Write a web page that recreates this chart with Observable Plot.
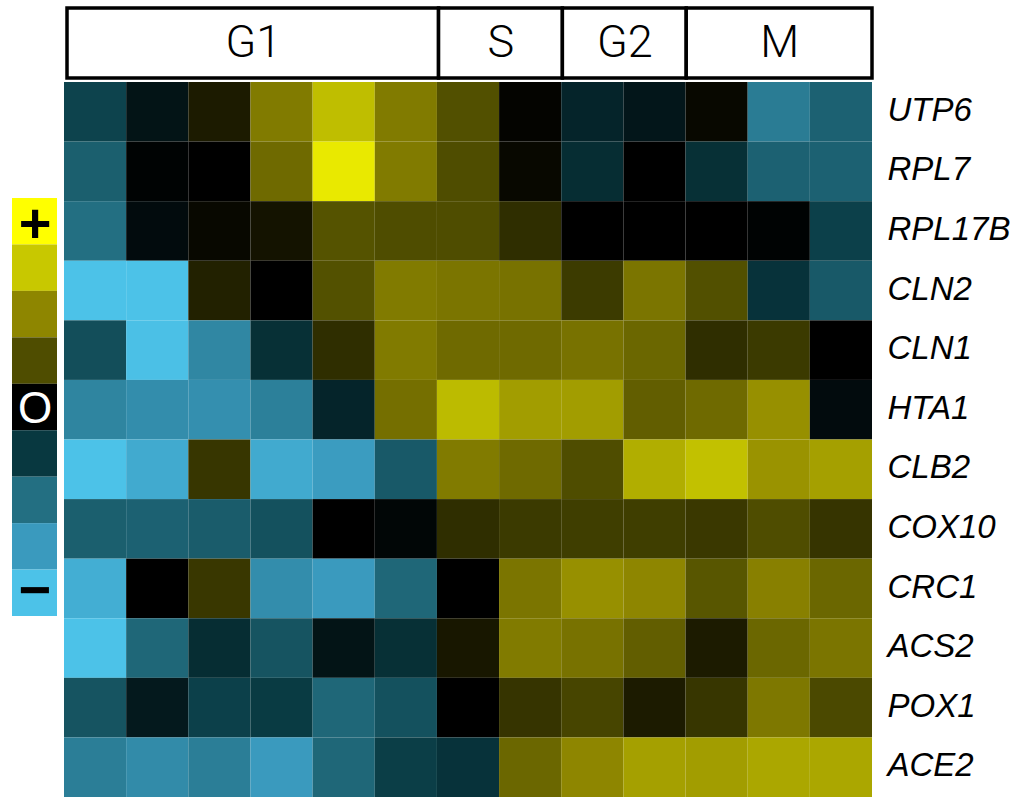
<!DOCTYPE html>
<html><head><meta charset="utf-8">
<script src="https://cdn.jsdelivr.net/npm/d3@7"></script>
<script src="https://cdn.jsdelivr.net/npm/@observablehq/plot@0.6"></script>
<style>
html,body{margin:0;padding:0;background:#fff}
body{width:1023px;height:797px;overflow:hidden;position:relative;font-family:"Liberation Sans",Arial,sans-serif}
#header{position:absolute;left:0;top:0}
#heat{position:absolute;left:0;top:82px}
#legend{position:absolute;left:12px;top:173px}
svg{display:block;overflow:visible}
</style></head><body>
<div id="header"></div><div id="heat"></div><div id="legend"></div>
<script>
// ---- data ----
const genes = ["UTP6","RPL7","RPL17B","CLN2","CLN1","HTA1","CLB2","COX10","CRC1","ACS2","POX1","ACE2"];
const columns = [0,1,2,3,4,5,6,7,8,9,10,11,12];
const phases = ["G1","S","G2","M"];
const phaseStart = [0,6,8,10];
const phaseEnd = [6,8,10,13];
// expression level, -4 (strong repression) .. +4 (strong induction)
const values = [
  [-1.2,-0.35, 0.35, 1.8, 2.85, 1.8, 1.05, 0.05,-0.65,-0.4, 0.1,-2.3,-1.75], // UTP6
  [-1.7,-0.05, 0.0, 1.5, 3.6, 1.8, 1.0, 0.1,-0.8, 0.0,-0.85,-1.75,-1.75],   // RPL7
  [-2.0,-0.2, 0.1, 0.25, 1.1, 1.0, 1.0, 0.6, 0.0, 0.0, 0.0,-0.05,-1.15],    // RPL17B
  [-4.0,-4.0, 0.43, 0.0, 1.07, 1.8, 1.7, 1.65, 0.76, 1.7, 1.05,-0.9,-1.6],  // CLN2
  [-1.4,-3.95,-2.55,-0.85, 0.6, 1.8, 1.5, 1.5, 1.65, 1.45, 0.6, 0.75, 0.0], // CLN1
  [-2.5,-2.7,-2.75,-2.4,-0.65, 1.6, 2.8, 2.35, 2.35, 1.3, 1.5, 2.15,-0.2],  // HTA1
  [-4.0,-3.4, 0.7,-3.4,-3.05,-1.6, 1.8, 1.5, 1.0, 2.6, 2.9, 2.2, 2.4],      // CLB2
  [-1.7,-1.75,-1.65,-1.45, 0.0,-0.1, 0.6, 0.75, 0.8, 0.8, 0.73, 1.0, 0.68], // COX10
  [-3.5, 0.0, 0.72,-2.7,-3.0,-1.85, 0.0, 1.7, 2.15, 2.0, 1.15, 1.9, 1.45],  // CRC1
  [-4.0,-1.85,-0.8,-1.5,-0.35,-0.85, 0.3, 1.8, 1.65, 1.3, 0.35, 1.45, 1.7], // ACS2
  [-1.5,-0.45,-1.15,-1.05,-1.85,-1.45, 0.0, 0.68, 0.9, 0.35, 0.7, 1.75, 0.95], // POX1
  [-2.35,-2.65,-2.35,-3.0,-1.85,-1.1,-0.9, 1.45, 2.0, 2.4, 2.35, 2.5, 2.5]  // ACE2
];
const legendLevels = [4,3,2,1,0,-1,-2,-3,-4];
const legendMarks = ["+","","","","O","","","","−"];
const scaleDomain = [-4,-3,-2,-1,0,1,2,3,4];
const scaleColors = ["#4cc2e8","#3a9abe","#236f82","#083840","#000000","#4f4d00","#8e8600","#c8c800","#ffff00"];

const cells = [];
genes.forEach((g, r) => columns.forEach((c, i) => cells.push({gene: g, col: c, value: values[r][i]})));

const colorScale = {type: "linear", domain: scaleDomain, range: scaleColors, interpolate: "rgb"};

// ---- header ----
const phaseData = phases.map((p, i) => ({phase: p, start: phaseStart[i], end: phaseEnd[i], row: "phase"}));
const header = Plot.plot({
  width: 1023, height: 82,
  marginLeft: 67, marginRight: 151, marginTop: 8, marginBottom: 4,
  style: {fontFamily: "Roboto,'Liberation Sans',sans-serif", background: "transparent"},
  x: {domain: [0, 13], axis: null},
  y: {domain: ["phase"], axis: null, padding: 0, round: false},
  marks: [
    Plot.barX(phaseData, {x1: "start", x2: "end", y: "row", fill: "white", stroke: "black", strokeWidth: 3.5}),
    Plot.text(phaseData, {x: d => (d.start + d.end) / 2, y: "row", text: "phase", fontSize: 45, fontWeight: 300,
      fill: "black", dy: -1})
  ]
});
document.getElementById("header").appendChild(header);

// ---- heatmap ----
const heat = Plot.plot({
  width: 1023, height: 715,
  marginLeft: 64, marginRight: 151, marginTop: 0, marginBottom: 0,
  style: {fontFamily: "'Liberation Sans',Arial,sans-serif", background: "transparent"},
  x: {domain: [0, 13], axis: null},
  y: {domain: genes, padding: 0, round: false, axis: null, label: null},
  color: colorScale,
  marks: [
    Plot.barX(cells, {x1: "col", x2: d => d.col + 1, y: "gene", fill: "value"}),
    Plot.axisY({anchor: "right", label: null, tickSize: 0, tickPadding: 15, fontSize: 33, fontStyle: "italic",
      fill: "black", dy: -2})
  ]
});
document.getElementById("heat").appendChild(heat);

// ---- legend ----
const legendData = legendLevels.map((v, i) => ({level: v, mark: legendMarks[i]}));
const legend = Plot.plot({
  width: 45, height: 468,
  marginLeft: 0, marginRight: 0, marginTop: 25, marginBottom: 25,
  style: {fontFamily: "'Liberation Sans',Arial,sans-serif", background: "transparent"},
  x: {domain: [0, 1], axis: null},
  y: {domain: legendLevels, padding: 0, round: false, axis: null},
  color: colorScale,
  marks: [
    Plot.barX(legendData, {x1: 0, x2: 1, y: "level", fill: "level"}),
    Plot.text(legendData.filter(d => d.mark === "+"), {x: 0.5, y: "level", text: "mark", fontSize: 56, fontWeight: "bold", fill: "black", dy: 2}),
    Plot.text(legendData.filter(d => d.mark === "O"), {x: 0.5, y: "level", text: "mark", fontSize: 44, fill: "white", dy: 1}),
    Plot.text(legendData.filter(d => d.mark === "−"), {x: 0.5, y: "level", text: "mark", fontSize: 56, fontWeight: "bold", fill: "black", dy: -2})
  ]
});
document.getElementById("legend").appendChild(legend);
</script>
</body></html>
